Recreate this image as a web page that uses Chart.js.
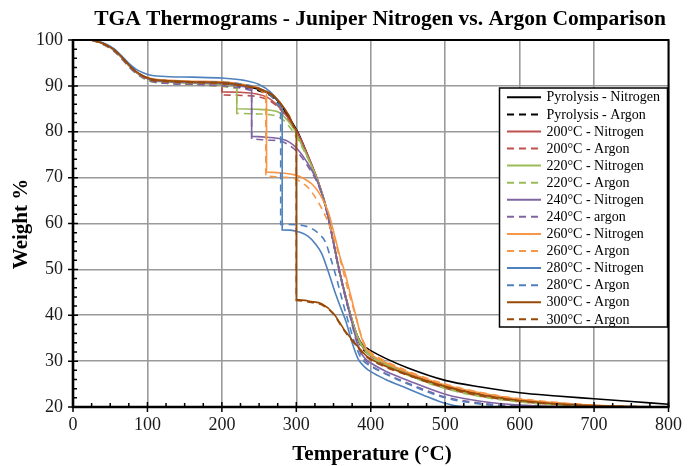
<!DOCTYPE html>
<html>
<head>
<meta charset="utf-8">
<script src="https://cdn.jsdelivr.net/npm/chart.js@4.4.1/dist/chart.umd.min.js"></script>
<style>
  html, body { margin: 0; padding: 0; background: #fff; }
  #wrap { width: 689px; height: 466px; }
</style>
</head>
<body>
<div id="wrap"><canvas id="tgaChart" width="689" height="466"></canvas></div>
<script>
const SERIF = "'Liberation Serif', 'Times New Roman', serif";

const seriesLabels = ["Pyrolysis - Nitrogen", "Pyrolysis - Argon", "200°C - Nitrogen", "200°C - Argon",
	"220°C - Nitrogen", "220°C - Argon", "240°C - Nitrogen", "240°C - argon", "260°C - Nitrogen",
	"260°C - Argon", "280°C - Nitrogen", "280°C - Argon", "300°C - Argon", "300°C - Argon"];

const xTicks = [0, 100, 200, 300, 400, 500, 600, 700, 800];
const yTicks = [20, 30, 40, 50, 60, 70, 80, 90, 100];

// temperature (°C) / weight (%)
const T_pyroN = [25,40,55,65,75,85,95,105,130,160,200,230,250,270,290,303,316,330,340,348,356,364,373,382,390,395,400,420,450,500,550,600,650,700,750,800];
const W_pyroN = [100,99.3,97.9,96.3,94.5,93.0,92.0,91.4,91.0,90.7,90.4,89.9,89.2,87.6,83.2,79.6,74.6,68.8,63.5,57.5,51,45.5,40,35.5,33.3,32.8,32.3,30.6,28.5,25.8,24.3,23.1,22.4,21.8,21.2,20.6];

const T_pyroAr = [25,40,55,65,75,85,95,105,130,160,200,230,250,270,290,303,316,330,340,348,356,364,373,382,390,395,400,420,450,500,550,600,650,700,750,800];
const W_pyroAr = [100,99.2,97.7,96.1,94.3,92.8,91.8,91.1,90.7,90.4,90.1,89.6,88.9,87.3,83.0,79.3,74.4,68.6,63.3,57.3,50.8,45.2,39.7,35,32.5,31.8,31.1,29.5,27.4,24.5,22.7,21.5,20.8,20.3,20.1,20.0];

const T_200N = [25,40,55,65,75,85,95,105,130,160,200,200,225,245,260,275,290,303,316,330,340,348,356,364,373,382,390,395,400,420,450,500,550,600,650,700,750,800];
const W_200N = [100,99.3,97.9,96.3,94.5,93.0,92.0,91.4,91.0,90.8,90.5,88.7,88.6,88.3,87.6,85.7,82.8,79.4,74.7,68.9,63.6,57.6,51.1,45.6,40.1,35.4,33,32.2,31.4,29.5,27.3,24.4,22.6,21.4,20.7,20.2,20.0,20.0];

const T_200Ar = [25,40,55,65,75,85,95,105,130,160,200,200,230,250,265,280,292,303,316,330,340,348,356,364,373,382,390,395,400,420,450,500,550,600,650,700,750,800];
const W_200Ar = [100,99.2,97.8,96.2,94.4,92.9,91.9,91.2,90.8,90.5,90.2,88.0,87.9,87.6,86.7,84.6,82.0,79.2,74.5,68.7,63.4,57.4,51,45.4,39.9,35.2,32.8,31.9,31.1,29.2,27,24.1,22.3,21.2,20.5,20.1,20.0,20.0];

const T_220N = [25,40,55,65,75,85,95,105,130,160,200,220,220,245,265,277,288,297,307,318,330,340,348,356,364,373,382,390,395,400,420,450,500,550,600,650,700,750,800];
const W_220N = [100,99.2,97.8,96.2,94.4,92.9,91.9,91.2,90.8,90.6,90.3,89.9,85.0,84.9,84.7,84.2,82.5,80.5,77.2,73.5,68.8,63.5,57.5,51,45.5,40,35.4,33,32.1,31.3,29.4,27.2,24.3,22.5,21.3,20.6,20.2,20,20];

const T_220Ar = [25,40,55,65,75,85,95,105,130,160,200,220,220,245,265,280,292,303,316,330,340,348,356,364,373,382,390,395,400,420,450,500,550,600,650,700,750,800];
const W_220Ar = [100,99.1,97.6,96.0,94.2,92.7,91.6,90.9,90.5,90.2,89.9,89.5,84.0,83.9,83.7,82.9,80.8,78.0,74.0,68.6,63.3,57.3,50.9,45.3,39.8,35.1,32.7,31.8,31.0,29.1,26.9,24.0,22.2,21.1,20.4,20.1,20,20];

const T_240N = [25,40,55,65,75,85,95,105,130,160,200,230,240,240,260,280,290,300,315,330,340,348,356,364,373,381,388,395,400,420,450,500,550,600,650,700,750,800];
const W_240N = [100,99.3,97.9,96.3,94.5,93.0,92.0,91.3,90.9,90.7,90.5,89.8,89.4,79.0,78.8,78.4,77.8,76.5,73.2,68.5,63.3,57.5,51.2,45.5,39.5,34.5,31.5,30.2,29.6,27.8,25.8,22.8,21.2,20.4,20.1,20,20,20];

const T_240Ar = [25,40,55,65,75,85,95,105,130,160,200,230,240,240,260,280,290,300,315,330,340,348,356,364,373,381,388,395,400,420,450,500,550,600,650,700,750,800];
const W_240Ar = [100,99.1,97.6,96.0,94.2,92.7,91.7,91.0,90.5,90.3,90.0,89.4,89.0,78.4,78.2,77.9,77.1,75.8,72.6,68.2,63.0,57.2,50.9,45.2,39.2,34.2,31.2,29.8,29.1,27.3,25.2,22.2,20.8,20.2,20,20,20,20];

const T_260N = [25,40,55,65,75,85,95,105,130,160,200,230,250,260,260,280,298,310,321,332,343,352,360,365,372,379,386,392,400,420,450,500,550,600,650,700,750,800];
const W_260N = [100,99.3,97.9,96.4,94.6,93.1,92.1,91.6,91.2,91.0,90.9,90.3,89.5,88.7,71.2,71.0,70.6,69.8,68.6,66.3,62.5,57,52,49.5,45,40.5,36,33.2,31.6,29.7,27.6,24.8,23,21.7,20.9,20.3,20.05,20];

const T_260Ar = [25,40,55,65,75,85,95,105,130,160,200,230,250,259,259,280,298,308,316,330,343,352,360,367,374,381,388,394,400,420,450,500,550,600,650,700,750,800];
const W_260Ar = [100,99.2,97.8,96.3,94.5,93.0,92.0,91.4,91.0,90.8,90.6,90.0,89.2,88.4,70.3,70.1,69.8,68.8,67.8,64.5,60.2,56,51.5,47,43,39,35.2,33,31.9,30,27.8,25,23.1,21.8,21,20.4,20.1,20];

const T_280N = [25,40,55,65,75,85,95,105,130,160,200,230,250,265,275,281,281,300,316,326,334,343,352,360,367,375,383,392,400,420,450,475,500,520,550,800];
const W_280N = [100,99.4,98.1,96.6,94.9,93.6,92.8,92.3,92.0,91.9,91.7,91.2,90.3,88.7,86.8,85.2,58.6,58.3,57.2,55.5,53.5,49.5,45,41.5,38.5,34,30.5,28.7,27.7,26,24,22.3,20.8,20.1,20,20];

const T_280Ar = [25,40,55,65,75,85,95,105,130,160,200,230,250,265,279,279,303,321,330,339,347,355,363,370,378,386,393,400,420,450,500,550,600,650,800];
const W_280Ar = [100,99.3,97.9,96.4,94.6,93.1,92.1,91.5,91.1,90.9,90.8,90.3,89.5,88.0,85.5,59.8,59.7,58.9,57.8,56,52,47.5,42.5,38.5,34.2,31,29.6,28.9,27.2,25,22,20.6,20.1,20,20];

const T_300Ar = [25,40,55,65,75,85,95,105,130,160,200,230,250,270,290,300,300,320,334,350,365,383,396,410,450,500,550,600,650,700,750,800];
const W_300Ar = [100,99.3,97.9,96.4,94.6,93.1,92.1,91.5,91.1,90.9,90.7,90.1,89.4,87.8,83.6,80.5,43.4,43.0,42.5,40.4,36.7,33.1,30.9,29.6,27.1,24.5,22.6,21.4,20.7,20.3,20.1,20];

const T_300Ar2 = [25,40,55,65,75,85,95,105,130,160,200,230,250,270,290,300,300,320,334,350,365,383,396,410,450,500,550,600,650,700,750,800];
const W_300Ar2 = [100,99.2,97.8,96.3,94.5,93.0,92.0,91.3,90.9,90.7,90.5,89.9,89.2,87.6,83.4,80.3,43.2,42.8,42.3,40.2,36.5,32.9,30.7,29.4,26.9,24.3,22.4,21.3,20.6,20.2,20,20];

const seriesT = [T_pyroN, T_pyroAr, T_200N, T_200Ar, T_220N, T_220Ar, T_240N, T_240Ar, T_260N, T_260Ar, T_280N, T_280Ar, T_300Ar, T_300Ar2];
const seriesW = [W_pyroN, W_pyroAr, W_200N, W_200Ar, W_220N, W_220Ar, W_240N, W_240Ar, W_260N, W_260Ar, W_280N, W_280Ar, W_300Ar, W_300Ar2];
const seriesColors = ["#000000", "#000000", "#C0504D", "#C0504D", "#9BBB59", "#9BBB59", "#8064A2", "#8064A2",
	"#F79646", "#F79646", "#4F81BD", "#4F81BD", "#984807", "#984807"];

const datasets = seriesLabels.map(function(label, i) {
	return {
		label: label,
		data: seriesT[i].map(function(t, j) { return {x: t, y: seriesW[i][j]}; }),
		borderColor: seriesColors[i],
		backgroundColor: seriesColors[i],
		borderWidth: 1.6,
		borderDash: i % 2 === 1 ? [7, 5] : [],
		pointRadius: 0,
		fill: false,
		cubicInterpolationMode: 'monotone',
		order: seriesLabels.length - i
	};
});

// axes frame, tick marks, titles and the boxed legend
const framePlugin = {
	id: 'frame',
	afterDraw(chart) {
		const ctx = chart.ctx;
		const a = chart.chartArea;
		const xs = chart.scales.x, ys = chart.scales.y;
		ctx.save();

		ctx.strokeStyle = '#000';
		ctx.lineWidth = 2;
		ctx.beginPath();
		ctx.moveTo(a.left, a.top); ctx.lineTo(a.right, a.top); ctx.lineTo(a.right, a.bottom);
		ctx.stroke();
		ctx.lineWidth = 2.6;
		ctx.beginPath();
		ctx.moveTo(a.left, a.top - 1); ctx.lineTo(a.left, a.bottom); ctx.lineTo(a.right + 1, a.bottom);
		ctx.stroke();

		ctx.lineWidth = 1.5;
		ctx.beginPath();
		for (let v = 20; v <= 100; v += 2) {
			const py = ys.getPixelForValue(v);
			if (v % 10 === 0) { ctx.moveTo(a.left - 5, py); ctx.lineTo(a.left + 5, py); }
			else { ctx.moveTo(a.left, py); ctx.lineTo(a.left + 4, py); }
		}
		for (let v = 0; v <= 800; v += 25) {
			const px = xs.getPixelForValue(v);
			if (v % 100 === 0) { ctx.moveTo(px, a.bottom + 5); ctx.lineTo(px, a.bottom - 5); }
			else { ctx.moveTo(px, a.bottom); ctx.lineTo(px, a.bottom - 4); }
		}
		ctx.stroke();

		ctx.fillStyle = '#000';
		ctx.textAlign = 'center';
		ctx.textBaseline = 'middle';
		ctx.font = 'bold 21.5px ' + SERIF;
		ctx.fillText('TGA Thermograms - Juniper Nitrogen vs. Argon Comparison', 380, 19);
		ctx.font = 'bold 21px ' + SERIF;
		ctx.fillText('Temperature (°C)', 372, 455);
		ctx.save();
		ctx.translate(22, 224);
		ctx.rotate(-Math.PI / 2);
		ctx.fillText('Weight %', 0, 0);
		ctx.restore();

		// legend
		const lx = 499.5, ly = 88, lw = 168, lh = 239;
		ctx.fillStyle = '#fff';
		ctx.fillRect(lx, ly, lw, lh);
		ctx.strokeStyle = '#000';
		ctx.lineWidth = 1.5;
		ctx.strokeRect(lx, ly, lw, lh);
		ctx.font = '14px ' + SERIF;
		ctx.textAlign = 'left';
		chart.data.datasets.forEach(function(ds, i) {
			const rowY = 97.3 + i * 17.08;
			ctx.strokeStyle = ds.borderColor;
			ctx.lineWidth = 2;
			ctx.setLineDash(ds.borderDash);
			ctx.beginPath();
			ctx.moveTo(507, rowY); ctx.lineTo(541, rowY);
			ctx.stroke();
			ctx.setLineDash([]);
			ctx.fillStyle = '#000';
			ctx.fillText(ds.label, 546.5, rowY + 0.5);
		});
		ctx.restore();
	}
};

let tgaChart = new Chart(document.getElementById("tgaChart"), {
	type: 'line',
	data: { datasets: datasets },
	options: {
		responsive: false,
		devicePixelRatio: 1,
		animation: false,
		layout: { padding: { top: 40, right: 16, left: 0, bottom: 0 } },
		plugins: {
			legend: { display: false },
			title: { display: false },
			tooltip: { enabled: false }
		},
		scales: {
			x: {
				type: 'linear', min: 0, max: 800,
				afterFit: function(s) { s.height = 59; },
				afterBuildTicks: function(s) { s.ticks = xTicks.map(function(v) { return {value: v}; }); },
				ticks: { font: { family: SERIF, size: 18 }, color: '#1a1a1a', padding: 7, maxRotation: 0 },
				grid: { color: '#9a9a9a', lineWidth: 1.6, drawTicks: false },
				border: { display: false }
			},
			y: {
				type: 'linear', min: 20, max: 100,
				afterFit: function(s) { s.width = 73; },
				afterBuildTicks: function(s) { s.ticks = yTicks.map(function(v) { return {value: v}; }); },
				ticks: { font: { family: SERIF, size: 18 }, color: '#1a1a1a', padding: 10 },
				grid: { color: '#9a9a9a', lineWidth: 1.6, drawTicks: false },
				border: { display: false }
			}
		}
	},
	plugins: [framePlugin]
});
</script>
</body>
</html>
